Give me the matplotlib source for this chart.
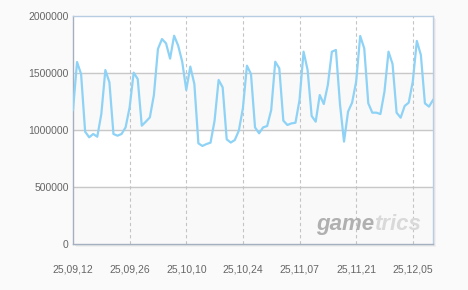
import numpy as np
import pandas as pd
import matplotlib
matplotlib.use("Agg")
import matplotlib.pyplot as plt
from matplotlib.patches import Rectangle

# Daily values, starting 2025-09-12
start_date = "2025-09-12"
values = [
    1175000, 1596000, 1491000, 985000, 936000, 965000, 941000, 1140000, 1526000, 1418000,
    965000, 950000, 965000, 1023000, 1199000, 1503000, 1447000, 1038000, 1073000, 1111000,
    1307000, 1711000, 1798000, 1760000, 1626000, 1827000, 1740000, 1599000, 1351000, 1556000,
    1404000, 883000, 860000, 877000, 889000, 1082000, 1439000, 1374000, 918000, 890000,
    912000, 995000, 1190000, 1564000, 1491000, 1023000, 971000, 1023000, 1035000, 1175000,
    1599000, 1541000, 1082000, 1044000, 1058000, 1064000, 1263000, 1687000, 1526000, 1123000,
    1073000, 1307000, 1228000, 1395000, 1687000, 1702000, 1228000, 898000, 1161000, 1240000,
    1424000, 1825000, 1716000, 1234000, 1152000, 1152000, 1140000, 1336000, 1687000, 1579000,
    1152000, 1108000, 1211000, 1240000, 1424000, 1781000, 1658000, 1234000, 1205000, 1263000,
]
tick_step = 14
y_ticks = [0, 500000, 1000000, 1500000, 2000000]

dates = pd.date_range(start_date, periods=len(values), freq="D")
x = np.arange(len(values))
tick_pos = x[::tick_step]
tick_labels = [d.strftime("%y,%m,%d") for d in dates[::tick_step]]

plt.rcParams["font.family"] = ["Liberation Sans", "DejaVu Sans"]

fig = plt.figure(figsize=(4.68, 2.90), dpi=100, facecolor="#fafafa")
ax_rect = [73 / 468, 46 / 290, 360 / 468, 228 / 290]

# soft shadow behind the plot box
for off, col in [(3, "#f0f0f0"), (2, "#e8e8e8"), (1, "#e0e0e0")]:
    fig.add_artist(Rectangle((ax_rect[0] + off / 468, ax_rect[1] - off / 290),
                             ax_rect[2], ax_rect[3], transform=fig.transFigure,
                             facecolor=col, edgecolor="none", zorder=-1))

ax = fig.add_axes(ax_rect)
ax.set_zorder(1)
ax.set_facecolor("white")

# alternating light bands
ax.axhspan(0, 500000, color="#f9f9f9", zorder=0)
ax.axhspan(1000000, 1500000, color="#f9f9f9", zorder=0)

for yv in y_ticks[1:-1]:
    ax.axhline(yv, color="#c8c8c8", lw=1.0, zorder=1)
for xv in tick_pos[1:]:
    ax.axvline(xv, color="#c4c4c4", lw=0.8, ls=(0, (3, 2.5)), zorder=1)

ax.plot(x, values, color="#8ed2f6", lw=1.6, zorder=3, solid_joinstyle="round")

ax.set_xlim(0, len(values) - 1)
ax.set_ylim(0, 2000000)
ax.set_xticks(tick_pos)
ax.set_xticklabels(tick_labels)
ax.set_yticks(y_ticks)
ax.set_yticklabels([str(v) for v in y_ticks])
ax.tick_params(axis="both", length=0, labelsize=7.5, labelcolor="#666666")
ax.tick_params(axis="x", pad=15)
ax.tick_params(axis="y", pad=3)

for side in ["left", "bottom"]:
    ax.spines[side].set_color("#a4b0bf")
    ax.spines[side].set_linewidth(1.0)
for side in ["top", "right"]:
    ax.spines[side].set_color("#b9cde2")
    ax.spines[side].set_linewidth(1.0)

# watermark
ax.text(0.836, 0.062, "game", transform=ax.transAxes, fontsize=16, fontweight="bold",
        fontstyle="italic", color="#b0b0b0", ha="right", va="baseline", zorder=2)
ax.text(0.836, 0.062, "trics", transform=ax.transAxes, fontsize=16, fontweight="bold",
        fontstyle="italic", color="#d9d9d9", ha="left", va="baseline", zorder=2)

fig.savefig("out.png", dpi=100, facecolor=fig.get_facecolor())
